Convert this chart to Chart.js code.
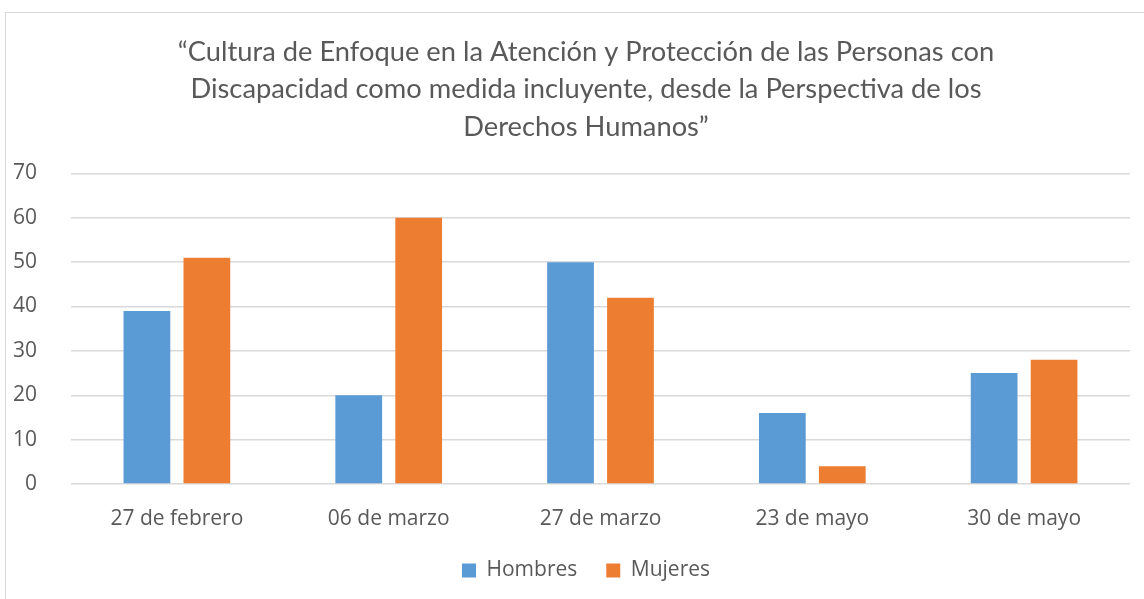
<!DOCTYPE html>
<html>
<head>
<meta charset="utf-8">
<script src="https://cdn.jsdelivr.net/npm/chart.js@4/dist/chart.umd.min.js"></script>
<style>
  body { margin: 0; background: #fff; overflow: hidden; }
  #box { position: absolute; left: 5px; top: 12px; width: 1170px; height: 600px; border: 1px solid #d9d9d9; }
  #wrap { position: absolute; left: 0; top: 0; width: 1160px; height: 586px; }
</style>
</head>
<body>
<div id="box"><div id="wrap"><canvas id="grafica"></canvas></div></div>
<script>
// datos
const fechas = ['27 de febrero', '06 de marzo', '27 de marzo', '23 de mayo', '30 de mayo'];
const hombres = [39, 20, 50, 16, 25];
const mujeres = [51, 60, 42, 4, 28];
const titulo = [
  '\u201cCultura de Enfoque en la Atención y Protección de las Personas con',
  'Discapacidad como medida incluyente, desde la Perspectiva de los',
  'Derechos Humanos\u201d'
];

const gris = '#595959';
Chart.defaults.font.family = '"Open Sans", sans-serif';
Chart.defaults.color = gris;

const ctx = document.getElementById('grafica').getContext('2d');
new Chart(ctx, {
  type: 'bar',
  data: {
    labels: fechas,
    datasets: [
      { label: 'Hombres', data: hombres, backgroundColor: '#5b9bd5' },
      { label: 'Mujeres', data: mujeres, backgroundColor: '#ed7d31' }
    ]
  },
  options: {
    responsive: true,
    maintainAspectRatio: false,
    animation: false,
    categoryPercentage: 0.566,
    barPercentage: 0.78,
    layout: { padding: { left: 0, right: 0, top: 0, bottom: 8 } },
    plugins: {
      title: {
        display: true,
        text: titulo,
        color: gris,
        font: { family: 'Lato, sans-serif', size: 27.3, weight: 'normal', lineHeight: 1.36 },
        padding: { top: 21, bottom: 28 }
      },
      legend: {
        position: 'bottom',
        labels: {
          boxWidth: 14, boxHeight: 14, padding: 29,
          font: { size: 21 }, color: gris
        }
      },
      tooltip: { enabled: false }
    },
    scales: {
      x: {
        grid: { display: false },
        border: { display: false },
        ticks: { font: { size: 21 }, padding: 14, color: gris },
        afterFit: s => { s.height = 47; }
      },
      y: {
        min: 0, max: 70,
        ticks: { stepSize: 10, font: { size: 21 }, padding: 34, color: gris },
        grid: { color: '#d9d9d9', lineWidth: 1.5, drawTicks: false },
        border: { display: false },
        afterFit: s => { s.width = 65; }
      },
      // eje vacio a la derecha, solo para dejar margen
      margen: {
        position: 'right',
        ticks: { display: false },
        grid: { display: false },
        border: { display: false },
        afterFit: s => { s.width = 36; }
      }
    }
  }
});
</script>
</body>
</html>
